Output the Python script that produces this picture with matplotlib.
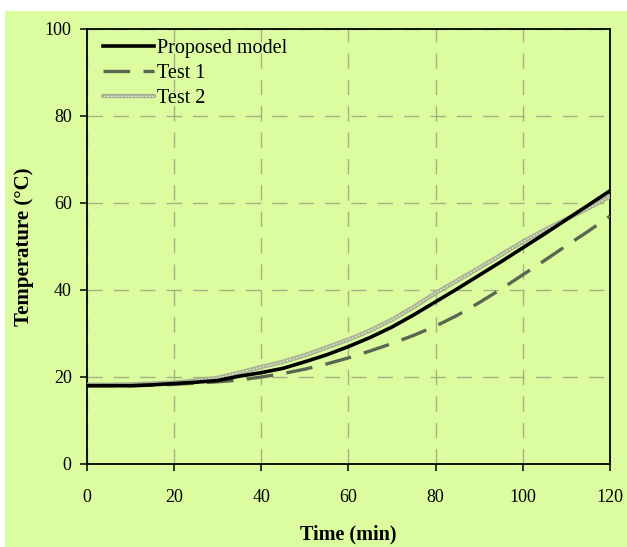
import matplotlib
matplotlib.use("Agg")
import matplotlib.pyplot as plt
from matplotlib.legend_handler import HandlerTuple

# time axis (min)
tiempo = [0, 5, 10, 15, 20, 25, 30, 35, 40, 45, 50, 55, 60,
          65, 70, 75, 80, 85, 90, 95, 100, 105, 110, 115, 120]

# temperatures (°C)
modelo = [18, 18, 18, 18.2, 18.5, 18.8, 19.2, 20.2, 21, 22, 23.5, 25.1, 27,
          29.1, 31.5, 34.3, 37.3, 40.3, 43.4, 46.5, 49.7, 52.9, 56.2, 59.5, 62.8]
test1 = [18, 18, 18, 18.1, 18.3, 18.6, 18.9, 19.3, 20, 20.8, 21.8, 23, 24.4,
         26, 27.7, 29.6, 31.7, 34.2, 37.1, 40.2, 43.5, 46.8, 50.2, 53.5, 57]
test2 = [18.2, 18.2, 18.3, 18.5, 18.7, 19.2, 19.8, 21, 22.3, 23.5, 25, 26.8, 28.6,
         30.7, 33.2, 36.1, 39.3, 42.2, 45.1, 48.1, 51.1, 53.8, 56.3, 58.8, 61.5]

x_ticks = [0, 20, 40, 60, 80, 100, 120]
y_ticks = [0, 20, 40, 60, 80, 100]

fondo = "#dcfca0"
color_grid = "#a4b180"
color_t1 = "#5b6651"
color_t2 = "#a8b194"

plt.rcParams['font.family'] = ['Liberation Serif', 'DejaVu Serif']

fig = plt.figure(figsize=(6.27, 5.47), dpi=100)
fig.patch.set_facecolor("white")
# green panel (white strip on top and left like the original)
fig.patches.append(plt.Rectangle((5 / 627, 0), 1, 1 - 11 / 547, transform=fig.transFigure,
                                 facecolor=fondo, edgecolor="none", zorder=-10))

ax = fig.add_axes([87 / 627, 1 - 464 / 547, 523 / 627, 435 / 547])
ax.set_facecolor(fondo)

# Test 2: chain of small hollow circles -> grey line with a light core
t2a, = ax.plot(tiempo, test2, color=color_t2, lw=3.2, solid_capstyle='round', zorder=3)
t2b, = ax.plot(tiempo, test2, color="#d9e6bf", lw=1.0, linestyle=(0, (1.5, 1)), zorder=3)
t1, = ax.plot(tiempo, test1, color=color_t1, lw=2.4, linestyle=(0, (8, 4)), zorder=4)
mod, = ax.plot(tiempo, modelo, color="black", lw=2.6, zorder=5)

ax.set_xlim(0, 120)
ax.set_ylim(0, 100)
ax.set_xticks(x_ticks)
ax.set_yticks(y_ticks)
ax.grid(True, color=color_grid, lw=1.0, linestyle=(0, (11, 8)))
ax.set_axisbelow(True)

for s in ax.spines.values():
    s.set_linewidth(1.3)
    s.set_color("black")
ax.tick_params(direction='out', length=5, width=1.1, labelsize=13,
               colors="black")
ax.tick_params(axis='y', pad=6)
ax.tick_params(axis='x', pad=13)

ax.set_xlabel("Time (min)", fontsize=14.5, fontweight='bold', labelpad=13)
ax.set_ylabel("Temperature (°C)", fontsize=15, fontweight='bold', labelpad=8)

leg = ax.legend([mod, t1, (t2a, t2b)], ["Proposed model", "Test 1", "Test 2"],
                handler_map={tuple: HandlerTuple(ndivide=1)},
                loc='upper left', bbox_to_anchor=(0.012, 1.0), frameon=False,
                fontsize=14.5, handlelength=2.5, handletextpad=0.15,
                labelspacing=0.3, borderaxespad=0.2, borderpad=0.3)

fig.savefig("out.png", dpi=100, facecolor=fig.get_facecolor())
